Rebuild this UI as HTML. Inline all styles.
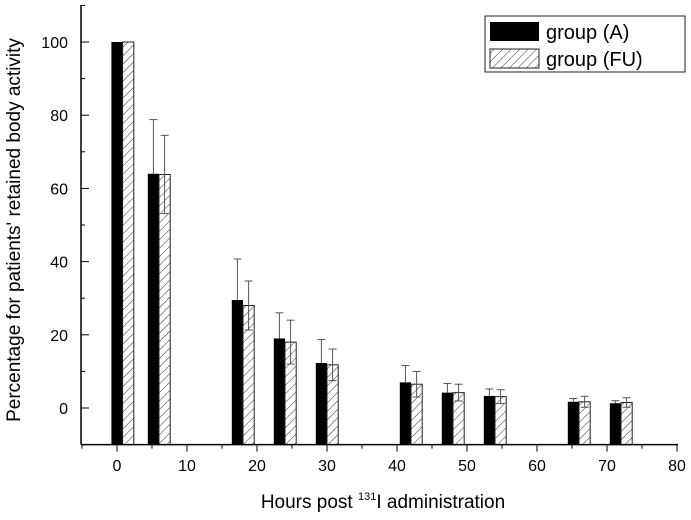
<!DOCTYPE html>
<html><head><meta charset="utf-8"><style>
body{margin:0;background:#fff}
svg{display:block;font-family:"Liberation Sans",sans-serif}
</style></head><body>
<svg id="c" width="691" height="520">
<defs><pattern id="hatch" patternUnits="userSpaceOnUse" width="6" height="6" patternTransform="rotate(45)">
<rect width="6" height="6" fill="#fff"/><line x1="0" y1="0" x2="0" y2="6" stroke="#333" stroke-width="1"/></pattern></defs>
<g id="plot"></g>
<g>
<rect x="485" y="16" width="200" height="56" fill="#fff" stroke="#222"/>
<rect x="490" y="22" width="49" height="19" fill="#000"/>
<text x="546" y="39" font-size="20">group (A)</text>
<rect x="490" y="49" width="49" height="19" fill="url(#hatch)" stroke="#222"/>
<text x="546" y="66" font-size="20">group (FU)</text>
</g>
<text transform="translate(20,230) rotate(-90)" text-anchor="middle" font-size="19">Percentage for patients' retained body activity</text>
<text x="383" y="508" text-anchor="middle" font-size="19">Hours post <tspan font-size="11" dy="-8">131</tspan><tspan dy="8">I administration</tspan></text>
</svg>
<script>
const times=[0.8,6,18,24,30,42,48,54,66,72];
const groupA=[100,64,29.5,19,12.3,7,4.2,3.3,1.7,1.3];
const groupFU=[100,63.8,28,18,11.8,6.5,4.2,3.1,1.7,1.5];
const errA=[0,14.8,11.2,7,6.4,4.6,2.5,1.9,0.9,0.7];
const errFU=[0,10.7,6.7,6,4.3,3.5,2.3,1.9,1.5,1.3];
const xTicks=[0,10,20,30,40,50,60,70,80];
const yTicks=[0,20,40,60,80,100];
const X=v=>117+(v)*7, Y=v=>408-v*3.66;
const NS="http://www.w3.org/2000/svg", g=document.getElementById('plot');
function mk(t,a){const e=document.createElementNS(NS,t);for(const k in a)e.setAttribute(k,a[k]);g.appendChild(e);return e;}
const w=1.6*7;
times.forEach((t,i)=>{
 let b=mk('rect',{x:X(t)-w,y:Y(groupA[i]),width:w,height:Y(-10)-Y(groupA[i]),fill:'#000'});
 
 
 let f=mk('rect',{x:X(t),y:Y(groupFU[i]),width:w,height:Y(-10)-Y(groupFU[i]),fill:'url(#hatch)',stroke:'#222','stroke-width':1});
 
 
 if(errA[i]>0){const cx=X(t)-w/2;
  mk('line',{x1:cx,x2:cx,y1:Y(groupA[i]),y2:Y(groupA[i]+errA[i]),stroke:'#555'});
  mk('line',{x1:cx-4,x2:cx+4,y1:Y(groupA[i]+errA[i]),y2:Y(groupA[i]+errA[i]),stroke:'#555'});}
 if(errFU[i]>0){const cx=X(t)+w/2;
  mk('line',{x1:cx,x2:cx,y1:Y(groupFU[i]-errFU[i]),y2:Y(groupFU[i]+errFU[i]),stroke:'#555'});
  mk('line',{x1:cx-4,x2:cx+4,y1:Y(groupFU[i]+errFU[i]),y2:Y(groupFU[i]+errFU[i]),stroke:'#555'});
  mk('line',{x1:cx-4,x2:cx+4,y1:Y(groupFU[i]-errFU[i]),y2:Y(groupFU[i]-errFU[i]),stroke:'#555'});}
});
mk('line',{x1:81,x2:81,y1:5,y2:Y(-10),stroke:'#000','stroke-width':1.5});
mk('line',{x1:81,x2:678,y1:Y(-10),y2:Y(-10),stroke:'#000','stroke-width':1.5});
for(let v=-10;v<=110;v+=10){mk('line',{x1:81,x2:v%20==0?89:85,y1:Y(v),y2:Y(v),stroke:'#000'});}
yTicks.forEach(v=>{const t=mk('text',{x:68,y:Y(v)+6,'text-anchor':'end','font-size':16});t.textContent=v;
 
 });
for(let v=-5;v<=80;v+=5){mk('line',{x1:X(v),x2:X(v),y1:Y(-10),y2:Y(-10)+(v%10==0?7:4),stroke:'#000'});}
xTicks.forEach(v=>{const t=mk('text',{x:X(v),y:471,'text-anchor':'middle','font-size':16});t.textContent=v;
 
 });
</script>
</body></html>
